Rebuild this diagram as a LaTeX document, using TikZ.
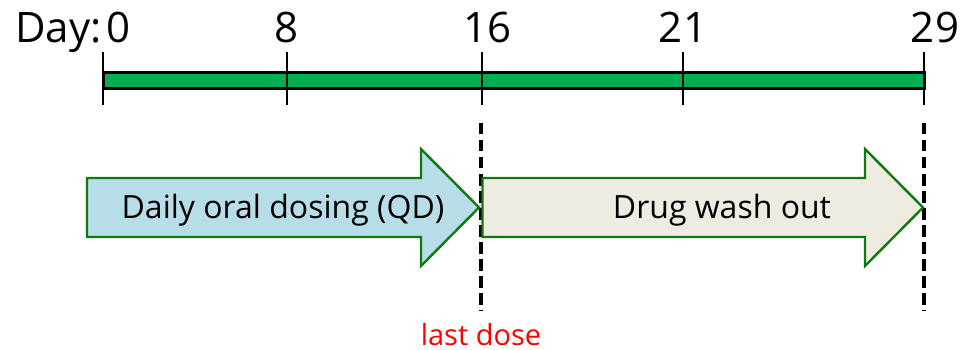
\documentclass[tikz,border=0pt]{standalone}
\usepackage{fontspec}
\setmainfont{Open Sans}
\definecolor{barGreen}{HTML}{00B050}
\definecolor{edgeGreen}{HTML}{0E7A0E}
\definecolor{doseBlue}{HTML}{B7DEE8}
\definecolor{washBeige}{HTML}{EEECE1}
\begin{document}
\begin{tikzpicture}[x=1pt,y=-1pt,
  daylabel/.style={inner sep=0pt,anchor=base,font=\fontsize{42}{50}\selectfont},
  tickline/.style={line width=1.3pt,black},
  phasearrow/.style={line width=2.4pt,draw=edgeGreen,line join=miter},
  phasetext/.style={inner sep=0pt,anchor=base,font=\fontsize{32}{38}\selectfont},
  marker/.style={line width=4pt,dash pattern=on 11.5pt off 5.5pt}]
\useasboundingbox (0,0) rectangle (964,350);

% day axis
\draw[fill=barGreen,line width=3pt] (103,73) rectangle (924,89);
\foreach \x/\n in {103/d0,287/d8,482/d16,683/d21,924/d29}{
  \coordinate (\n top) at (\x,52);
  \coordinate (\n bot) at (\x,105);
  \draw[tickline] (\n top) -- (\n bot);
}
\node[daylabel] (daytitle) at (58.5,43) {Day:};
\node[daylabel] (l0)  at (118.5,43) {0};
\node[daylabel] (l8)  at (287,43) {8};
\node[daylabel] (l16) at (487.5,43) {16};
\node[daylabel] (l21) at (683,43) {21};
\node[daylabel] (l29) at (935,43) {29};

% markers for the last dose and the end of the study
\coordinate (m16top) at (480.5,123);
\coordinate (m16bot) at (480.5,311);
\coordinate (m29top) at (924,123);
\coordinate (m29bot) at (924,311);
\draw[marker] (m16top) -- (m16bot);
\draw[marker] (m29top) -- (m29bot);

% treatment phases
\draw[phasearrow,fill=doseBlue] (87,178) -- (421,178) -- (421,149) -- (479,207.5)
  -- (421,266) -- (421,237) -- (87,237) -- cycle;
\draw[phasearrow,fill=washBeige] (482.5,178) -- (865,178) -- (865,149) -- (923,207.5)
  -- (865,266) -- (865,237) -- (482.5,237) -- cycle;
\node[phasetext] (dosing) at (283,218) {Daily oral dosing (QD)};
\node[phasetext] (washout) at (722,218) {Drug wash out};

\node[inner sep=0pt,anchor=base,text=red,font=\fontsize{29}{35}\selectfont] (lastdose) at (481,345) {last dose};
\end{tikzpicture}
\end{document}
